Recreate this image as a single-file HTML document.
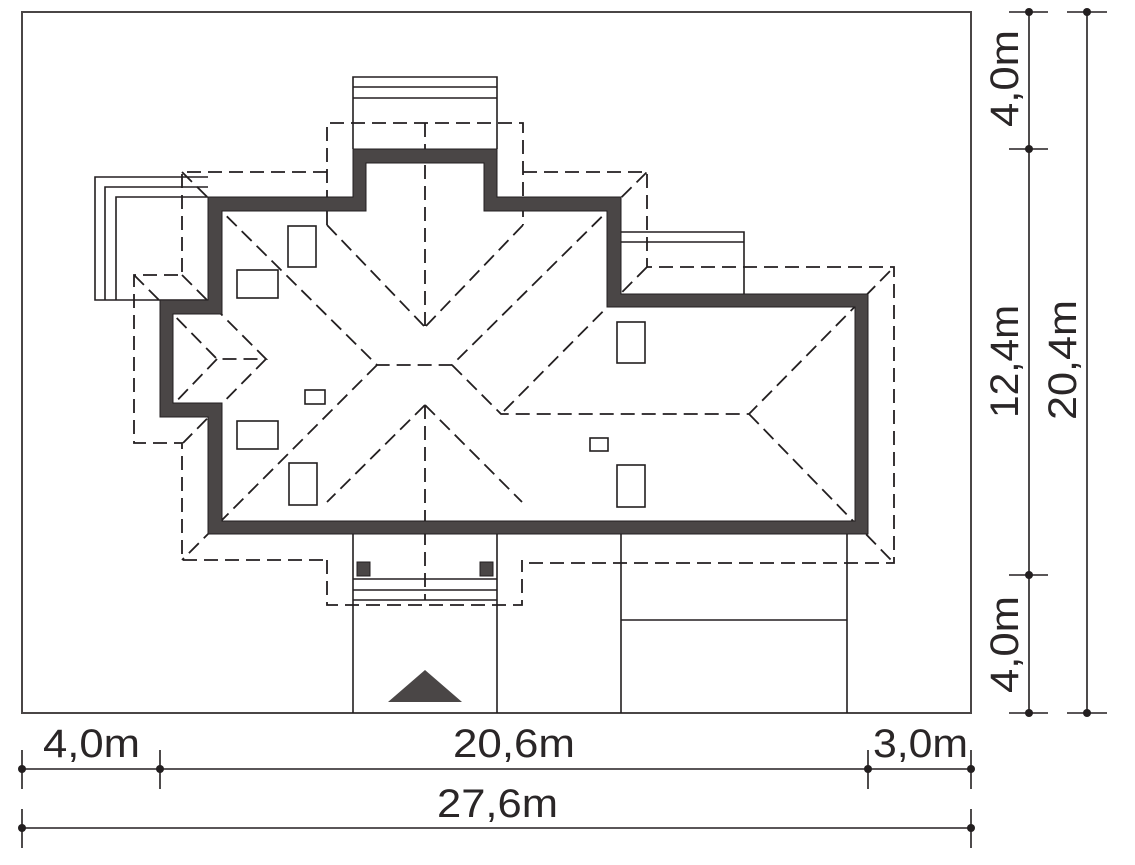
<!DOCTYPE html>
<html><head><meta charset="utf-8"><style>
html,body{margin:0;padding:0;background:#fff;}
svg{display:block;}
text{font-family:"Liberation Sans",sans-serif;font-size:40px;fill:#2a2627;}
</style></head><body>
<svg width="1135" height="865" viewBox="0 0 1135 865" xmlns="http://www.w3.org/2000/svg">
<rect x="0" y="0" width="1135" height="865" fill="#fff"/>
<rect x="22" y="12" width="949" height="701" fill="none" stroke="#4a4646" stroke-width="2"/>

<g fill="none" stroke="#231f20" stroke-width="1.6">
<path d="M208 177 H95 V300 H208 M105 300 V187 H208 M116 300 V197 H208"/>
<path d="M353 149 V77 H497 V149 M353 87 H497 M353 98 H497"/>
<path d="M621 232 H744 V294 M621 242 H744"/>
<path d="M353 534 V713 M497 534 V713 M621 534 V713 M847 534 V713 M621 620 H847"/>
<path d="M353 579 H497 M353 590 H497 M353 600 H497"/>
<rect x="288" y="226" width="28" height="41"/>
<rect x="237" y="270" width="41" height="28"/>
<rect x="237" y="421" width="41" height="28"/>
<rect x="289" y="463" width="28" height="42"/>
<rect x="617" y="322" width="28" height="41"/>
<rect x="617" y="465" width="28" height="42"/>
<rect x="305" y="390" width="20" height="14"/>
<rect x="590" y="438" width="18" height="13"/>
</g>

<g fill="none" stroke="#231f20" stroke-width="1.8" stroke-dasharray="14,7">
<path d="M327 225 V123 H523 V225"/>
<path d="M425 123 V327 M327 225 L425 327 M523 225 L425 327"/>
<path d="M327 172 H182 V275 H134 V443 H182 V560 H327 M523 172 H647 V267 H894 V563 H522"/>
<path d="M327 560 V605 H522 V560"/>
<path d="M425 405 V600 M425 405 L327 502 M425 405 L522 502"/>
<path d="M182 172 L377 365 H452 L647 172 M452 365 L501 414 H749 L894 267 M749 414 L894 563 M647 267 L501 414 M377 365 L182 560"/>
<path d="M134 275 L162 303 M182 275 L210 303 M162 303 L217 359 H266 L220 313 M217 359 L167 411 M266 359 L183 443"/>
</g>

<path fill="#4a4646" fill-rule="evenodd" stroke="#231f20" stroke-width="1" d="M208 197 H353 V149 H497 V197 H621 V294 H868 V534 H208 V417 H160 V300 H208 Z
M222 211 V314 H173 V403 H222 V521 H855 V307 H607 V211 H484 V163 H366 V211 Z"/>

<rect x="357" y="562" width="13" height="14" fill="#4a4646" stroke="#231f20"/>
<rect x="480" y="562" width="13" height="14" fill="#4a4646" stroke="#231f20"/>
<polygon points="425,670 462,702 388,702" fill="#4a4646"/>

<g stroke="#231f20" stroke-width="1.6" fill="none">
<path d="M1029 12 V713 M1087 12 V713"/>
<path d="M1009 12 H1048 M1009 149 H1048 M1009 575 H1048 M1009 713 H1048 M1067 12 H1107 M1067 713 H1107"/>
<path d="M22 769 H971 M22 828 H971"/>
<path d="M22 750 V789 M160 750 V789 M868 750 V789 M971 750 V789 M22 809 V848 M971 809 V848"/>
</g>
<g fill="#231f20">
<circle cx="1029" cy="12" r="4"/><circle cx="1029" cy="149" r="4"/><circle cx="1029" cy="575" r="4"/><circle cx="1029" cy="713" r="4"/>
<circle cx="1087" cy="12" r="4"/><circle cx="1087" cy="713" r="4"/>
<circle cx="22" cy="769" r="4"/><circle cx="160" cy="769" r="4"/><circle cx="868" cy="769" r="4"/><circle cx="971" cy="769" r="4"/>
<circle cx="22" cy="828" r="4"/><circle cx="971" cy="828" r="4"/>
</g>

<text x="43" y="757" textLength="97" lengthAdjust="spacingAndGlyphs">4,0m</text>
<text x="453" y="757" textLength="122" lengthAdjust="spacingAndGlyphs">20,6m</text>
<text x="873" y="757" textLength="95" lengthAdjust="spacingAndGlyphs">3,0m</text>
<text x="437" y="817" textLength="121" lengthAdjust="spacingAndGlyphs">27,6m</text>
<text transform="translate(1018,127) rotate(-90)" textLength="97" lengthAdjust="spacingAndGlyphs">4,0m</text>
<text transform="translate(1018,418) rotate(-90)" textLength="113" lengthAdjust="spacingAndGlyphs">12,4m</text>
<text transform="translate(1018,693) rotate(-90)" textLength="97" lengthAdjust="spacingAndGlyphs">4,0m</text>
<text transform="translate(1076,420) rotate(-90)" textLength="120" lengthAdjust="spacingAndGlyphs">20,4m</text>
</svg>
</body></html>
